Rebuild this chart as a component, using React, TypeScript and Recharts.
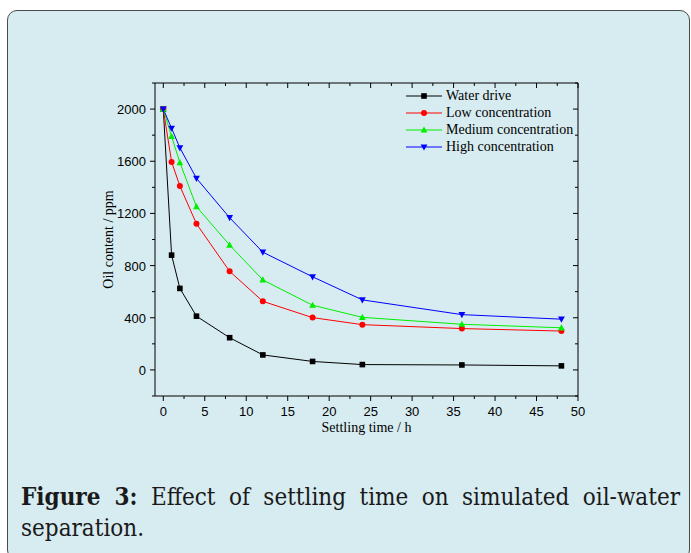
import { Legend, Line, LineChart, XAxis, YAxis } from "recharts";

const hours = [0, 1, 2, 4, 8, 12, 18, 24, 36, 48];
const waterDrive = [2000, 880, 625, 412, 247, 115, 65, 41, 38, 31];
const lowConc = [2000, 1595, 1410, 1120, 756, 526, 401, 347, 317, 298];
const mediumConc = [2000, 1790, 1590, 1252, 957, 690, 496, 403, 350, 323];
const highConc = [2000, 1853, 1703, 1469, 1167, 903, 714, 537, 424, 389];

const xTicks = [0, 2.5, 5, 7.5, 10, 12.5, 15, 17.5, 20, 22.5, 25, 27.5, 30, 32.5, 35, 37.5, 40, 42.5, 45, 47.5, 50];
const yTicks = [-200, 0, 200, 400, 600, 800, 1000, 1200, 1400, 1600, 1800, 2000, 2200];

type Shape = "square" | "circle" | "up" | "down";

const series: { key: string; name: string; color: string; shape: Shape; values: number[] }[] = [
  { key: "water", name: "Water drive", color: "#000000", shape: "square", values: waterDrive },
  { key: "low", name: "Low concentration", color: "#ff0000", shape: "circle", values: lowConc },
  { key: "medium", name: "Medium concentration", color: "#00ee00", shape: "up", values: mediumConc },
  { key: "high", name: "High concentration", color: "#0000ff", shape: "down", values: highConc },
];

const data = hours.map((h, i) => {
  const row: Record<string, number> = { h };
  series.forEach((s) => (row[s.key] = s.values[i]));
  return row;
});

const SANS = "'Liberation Sans', Arial, sans-serif";
const SERIF = "'Liberation Serif', 'Times New Roman', serif";
const CAPTION_FONT = "'DejaVu Serif Condensed', 'DejaVu Serif', serif";

function Marker({ cx, cy, shape, color }: { cx: number; cy: number; shape: Shape; color: string }) {
  if (shape === "square") return <rect x={cx - 2.8} y={cy - 2.8} width={5.6} height={5.6} fill={color} />;
  if (shape === "circle") return <circle cx={cx} cy={cy} r={3} fill={color} />;
  if (shape === "up") return <polygon points={`${cx},${cy - 3.6} ${cx + 3.4},${cy + 2.6} ${cx - 3.4},${cy + 2.6}`} fill={color} />;
  return <polygon points={`${cx},${cy + 3.6} ${cx + 3.4},${cy - 2.6} ${cx - 3.4},${cy - 2.6}`} fill={color} />;
}

const dotFor = (shape: Shape, color: string) => (p: any) => (
  <Marker key={`${shape}-${p.index}`} cx={p.cx} cy={p.cy} shape={shape} color={color} />
);

function BottomTick({ x, y, payload }: any) {
  const major = payload.value % 5 === 0;
  return (
    <g>
      <line x1={x} x2={x} y1={y} y2={y + (major ? 5 : 3)} stroke="#000" />
      {major && (
        <text x={x} y={y + 20} textAnchor="middle" fontSize={13} fontFamily={SANS} fill="#000">
          {payload.value}
        </text>
      )}
    </g>
  );
}

function TopTick({ x, y, payload }: any) {
  const major = payload.value % 5 === 0;
  return <line x1={x} x2={x} y1={y} y2={y + (major ? 5 : 3)} stroke="#000" />;
}

function LeftTick({ x, y, payload }: any) {
  const major = payload.value % 400 === 0 && payload.value >= 0 && payload.value <= 2000;
  return (
    <g>
      <line x1={x} x2={x - (major ? 5 : 3)} y1={y} y2={y} stroke="#000" />
      {major && (
        <text x={x - 9} y={y + 5} textAnchor="end" fontSize={13} fontFamily={SANS} fill="#000">
          {payload.value}
        </text>
      )}
    </g>
  );
}

function RightTick({ x, y, payload }: any) {
  const major = payload.value % 400 === 0;
  return <line x1={x} x2={x - (major ? 5 : 3)} y1={y} y2={y} stroke="#000" />;
}

function YTitle({ viewBox }: any) {
  const cx = viewBox.x + 13;
  const cy = viewBox.y + viewBox.height / 2;
  return (
    <text x={cx} y={cy} transform={`rotate(-90 ${cx} ${cy})`} textAnchor="middle" dominantBaseline="central" fontSize={14} fontFamily={SERIF} fill="#000">
      Oil content / ppm
    </text>
  );
}

function LegendBox() {
  return (
    <div style={{ fontFamily: SERIF, fontSize: 14, lineHeight: "17px", color: "#000" }}>
      {series.map((s) => (
        <div key={s.key} style={{ display: "flex", alignItems: "center", height: 17 }}>
          <svg width={36} height={12} style={{ marginRight: 4 }}>
            <line x1={0} x2={36} y1={6} y2={6} stroke={s.color} strokeWidth={1} />
            <Marker cx={18} cy={6} shape={s.shape} color={s.color} />
          </svg>
          <span>{s.name}</span>
        </div>
      ))}
    </div>
  );
}

export default function App() {
  return (
    <div style={{ position: "absolute", left: 0, top: 0, width: 691, height: 553, overflow: "hidden" }}>
      <div
        style={{
          position: "absolute",
          left: 7,
          top: 10,
          width: 683,
          height: 550,
          boxSizing: "border-box",
          border: "1.5px solid #4a4a4a",
          borderRadius: 10,
          background: "#d7ecf1",
        }}
      />
      <div style={{ position: "absolute", left: 0, top: 0 }}>
        <LineChart width={691} height={553} data={data} margin={{ top: 82, right: 112, bottom: 117, left: 95 }}>
          <XAxis
            dataKey="h"
            type="number"
            domain={[-1, 50]}
            allowDataOverflow
            ticks={xTicks}
            interval={0}
            height={40}
            tickSize={0}
            tickMargin={0}
            tick={<BottomTick />}
            axisLine={{ stroke: "#000" }}
            tickLine={false}
            label={{ value: "Settling time / h", position: "insideBottom", offset: 4, fontSize: 14, fontFamily: SERIF, fill: "#000" }}
          />
          <XAxis
            xAxisId="top"
            orientation="top"
            dataKey="h"
            type="number"
            domain={[-1, 50]}
            allowDataOverflow
            ticks={xTicks}
            interval={0}
            height={1}
            tickSize={0}
            tickMargin={0}
            tick={<TopTick />}
            axisLine={{ stroke: "#000" }}
            tickLine={false}
          />
          <YAxis
            type="number"
            domain={[-200, 2200]}
            allowDataOverflow
            ticks={yTicks}
            interval={0}
            width={60}
            tickSize={0}
            tickMargin={0}
            tick={<LeftTick />}
            axisLine={{ stroke: "#000" }}
            tickLine={false}
            label={<YTitle />}
          />
          <YAxis
            yAxisId="right"
            orientation="right"
            type="number"
            domain={[-200, 2200]}
            allowDataOverflow
            ticks={yTicks}
            interval={0}
            width={1}
            tickSize={0}
            tickMargin={0}
            tick={<RightTick />}
            axisLine={{ stroke: "#000" }}
            tickLine={false}
          />
          <Legend layout="vertical" align="center" verticalAlign="middle" content={<LegendBox />} wrapperStyle={{ left: 406, top: 87, width: 200 }} />
          {/* invisible series so the mirrored frame axes have data to bind to */}
          <Line
            xAxisId="top"
            yAxisId="right"
            dataKey="water"
            stroke="none"
            dot={false}
            activeDot={false}
            legendType="none"
            isAnimationActive={false}
          />
          {series.map((s) => (
            <Line
              key={s.key}
              dataKey={s.key}
              name={s.name}
              stroke={s.color}
              strokeWidth={1}
              dot={dotFor(s.shape, s.color)}
              activeDot={false}
              isAnimationActive={false}
            />
          ))}
        </LineChart>
      </div>
      <div
        style={{
          position: "absolute",
          left: 21,
          top: 481,
          width: 659,
          fontFamily: CAPTION_FONT,
          fontSize: 24,
          lineHeight: "31px",
          color: "#1a1a1a",
        }}
      >
        <div style={{ whiteSpace: "nowrap", textAlign: "justify", textAlignLast: "justify" }}>
          <b>Figure 3:</b> Effect of settling time on simulated oil-water
        </div>
        <div>separation.</div>
      </div>
    </div>
  );
}
